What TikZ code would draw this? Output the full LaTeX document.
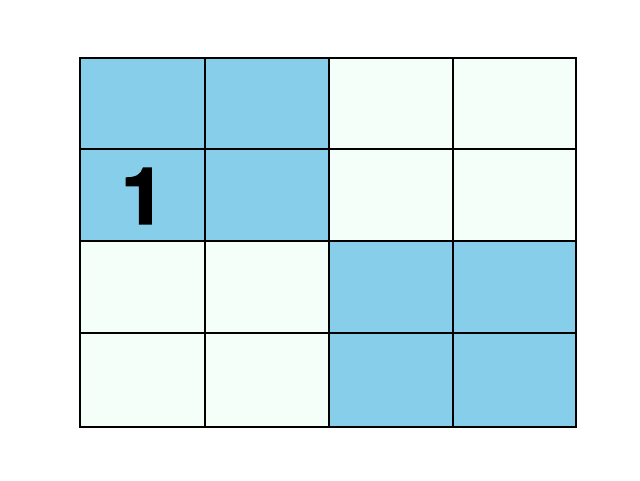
\documentclass[tikz,border=0pt]{standalone}
\usepackage{fontspec}
\newfontfamily\digitfont{TeX Gyre Heros}[FakeBold=2.5]
\definecolor{sky}{HTML}{87CEEB}
\definecolor{mint}{HTML}{F5FFFA}
\begin{document}
\begin{tikzpicture}[x=1pt,y=-1pt,
  cellb/.style={fill=sky,draw=black,line width=1.8pt},
  cellw/.style={fill=mint,draw=black,line width=1.8pt}]
\useasboundingbox (0,0) rectangle (640,480);
% row 0
\draw[cellb] (80,58) rectangle (205,149);
\draw[cellb] (205,58) rectangle (329,149);
\draw[cellw] (329,58) rectangle (453,149);
\draw[cellw] (453,58) rectangle (576,149);
% row 1
\draw[cellb] (80,149) rectangle (205,241);
\draw[cellb] (205,149) rectangle (329,241);
\draw[cellw] (329,149) rectangle (453,241);
\draw[cellw] (453,149) rectangle (576,241);
% row 2
\draw[cellw] (80,241) rectangle (205,333);
\draw[cellw] (205,241) rectangle (329,333);
\draw[cellb] (329,241) rectangle (453,333);
\draw[cellb] (453,241) rectangle (576,333);
% row 3
\draw[cellw] (80,333) rectangle (205,427);
\draw[cellw] (205,333) rectangle (329,427);
\draw[cellb] (329,333) rectangle (453,427);
\draw[cellb] (453,333) rectangle (576,427);
\node[font=\digitfont\bfseries\fontsize{78}{78}\selectfont, inner sep=0pt] (one) at (143,196) {1};
\end{tikzpicture}
\end{document}
